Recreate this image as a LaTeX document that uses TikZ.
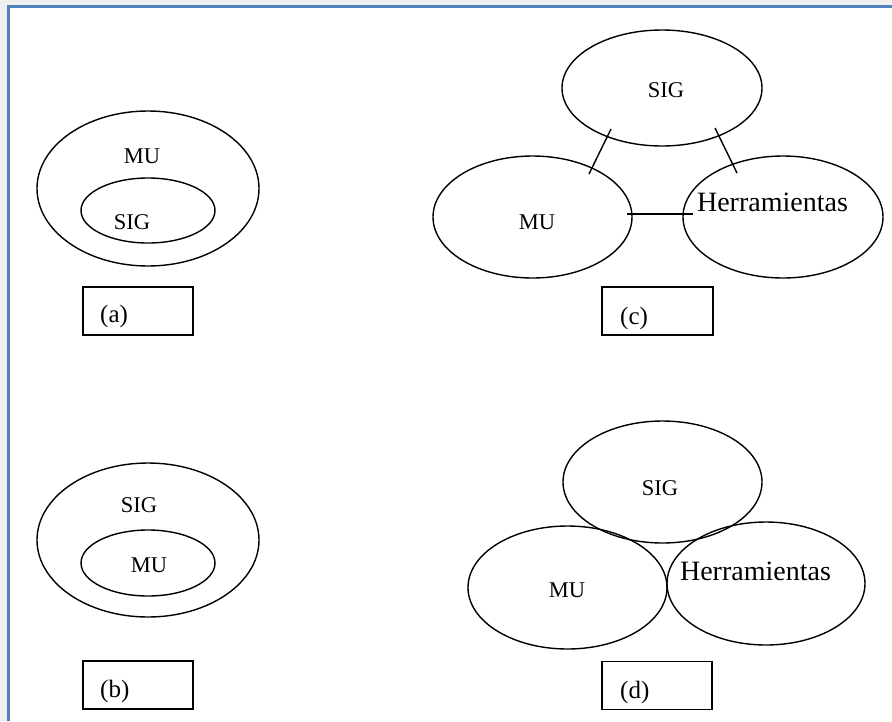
\documentclass[tikz,border=0pt]{standalone}
\usepackage{fontspec}
\setmainfont{Liberation Serif}
\usetikzlibrary{shapes.geometric}
\definecolor{framegray}{HTML}{EFEFEF}
\definecolor{frameblue}{HTML}{4F81BD}
\begin{document}
\begin{tikzpicture}[x=1pt,y=-1pt,
  oval/.style={draw,ellipse,line width=1.4pt,inner sep=0pt},
  tag/.style={draw,line width=1.4pt,inner sep=0pt,minimum width=110pt,minimum height=48pt},
  lbl/.style={anchor=base,inner sep=0pt,font=\fontsize{22.5}{26}\selectfont},
  biglbl/.style={anchor=base,inner sep=0pt,font=\fontsize{28}{32}\selectfont},
  caption/.style={anchor=base west,inner sep=0pt,font=\fontsize{25}{29}\selectfont},
  link/.style={line width=1.4pt}]
% canvas and frame
\useasboundingbox (0,0) rectangle (892,721);
\fill[white] (0,0) rectangle (892,721);
\fill[framegray] (0,0) rectangle (892,6);
\fill[framegray] (0,0) rectangle (8,721);
\draw[frameblue,line width=2.2pt] (8.5,721) -- (8.5,6.5) -- (892,6.5);

% (a) SIG inside MU
\node[oval,minimum width=222pt,minimum height=155pt] (aOuter) at (148,188.5) {};
\node[oval,minimum width=134pt,minimum height=65pt] (aInner) at (148,210.5) {};
\node[lbl] (aMU) at (142,163) {MU};
\node[lbl] (aSIG) at (132,229) {SIG};
\node[tag] (aBox) at (138,311) {};
\node[caption] (aCap) at (100,322) {(a)};

% (b) MU inside SIG
\node[oval,minimum width=222pt,minimum height=154pt] (bOuter) at (148,540) {};
\node[oval,minimum width=134pt,minimum height=66pt] (bInner) at (148,563) {};
\node[lbl] (bSIG) at (139,512) {SIG};
\node[lbl] (bMU) at (149,572.5) {MU};
\node[tag] (bBox) at (138,685) {};
\node[caption] (bCap) at (100,697) {(b)};

% (c) three separate sets joined by links
\node[oval,minimum width=200pt,minimum height=116pt] (cSIG) at (662,88) {};
\node[oval,minimum width=199pt,minimum height=122pt] (cMU) at (532.5,217) {};
\node[oval,minimum width=200pt,minimum height=122pt] (cHer) at (783,217) {};
\node[lbl] (cSIGt) at (666,97.5) {SIG};
\node[lbl] (cMUt) at (537,229) {MU};
\node[biglbl] (cHert) at (772.5,211) {Herramientas};
\coordinate (l1a) at (611,129);
\coordinate (l1b) at (589,174);
\coordinate (l2a) at (715,128);
\coordinate (l2b) at (737,173);
\coordinate (l3a) at (627,214);
\coordinate (l3b) at (693,214);
\draw[link] (l1a) -- (l1b);
\draw[link] (l2a) -- (l2b);
\draw[link] (l3a) -- (l3b);
\node[tag,minimum width=111pt] (cBox) at (657.5,311) {};
\node[caption] (cCap) at (620,324) {(c)};

% (d) three touching sets
\node[oval,minimum width=199pt,minimum height=122pt] (dSIG) at (662.5,482) {};
\node[oval,minimum width=199pt,minimum height=123pt] (dMU) at (567.5,587.5) {};
\node[oval,minimum width=198pt,minimum height=123pt] (dHer) at (766,583.5) {};
\node[lbl] (dSIGt) at (660,495) {SIG};
\node[lbl] (dMUt) at (567,597.5) {MU};
\node[biglbl] (dHert) at (755.5,580) {Herramientas};
\node[tag] (dBox) at (657,685.5) {};
\node[caption] (dCap) at (620,698) {(d)};
\end{tikzpicture}
\end{document}
